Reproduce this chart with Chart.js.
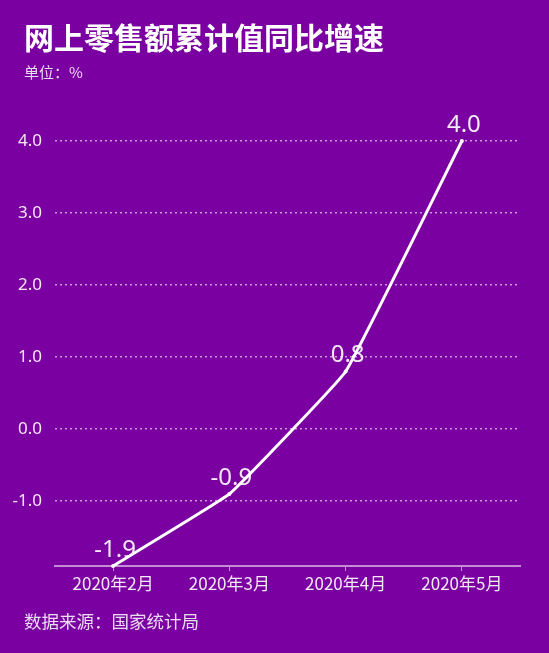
<!DOCTYPE html>
<html lang="zh">
<head>
  <meta charset="UTF-8">
  <title>网上零售额累计值同比增速</title>
  <script src="https://cdn.jsdelivr.net/npm/chart.js"></script>
  <style>
    body { margin: 0; background: #7a00a2; width: 549px; height: 653px; overflow: hidden; font-family: "Noto Sans CJK SC", "Noto Sans", sans-serif; }
    #wrap { position: absolute; left: 0; top: 0; width: 549px; height: 653px; }
    .txt { position: absolute; left: 24px; color: #fff; white-space: nowrap; }
    #title { top: 14px; font-size: 30px; font-weight: bold; }
    #unit { top: 61px; font-size: 15px; color: #ecdcf3; }
    #source { top: 608px; font-size: 17.5px; color: #ecdcf3; }
  </style>
</head>
<body>
  <div id="wrap"><canvas id="growthChart" width="549" height="653"></canvas></div>
  <div class="txt" id="title">网上零售额累计值同比增速</div>
  <div class="txt" id="unit">单位：%</div>
  <div class="txt" id="source">数据来源：国家统计局</div>

  <script>
    const months = ['2020年2月', '2020年3月', '2020年4月', '2020年5月'];
    const growth = [-1.9, -0.9, 0.8, 4.0];
    const yTicks = [-1, 0, 1, 2, 3, 4];

    // value labels above each point, drawn under the line
    const valueLabels = {
      id: 'valueLabels',
      beforeDatasetsDraw(chart) {
        const ctx = chart.ctx;
        const meta = chart.getDatasetMeta(0);
        ctx.save();
        ctx.font = '24px "Noto Sans", "Noto Sans CJK SC", sans-serif';
        ctx.fillStyle = '#f4e8f8';
        ctx.textAlign = 'center';
        ctx.textBaseline = 'bottom';
        meta.data.forEach((pt, i) => {
          ctx.fillText(growth[i].toFixed(1), pt.x + 2, pt.y - 4);
        });
        ctx.restore();
      }
    };

    const ctx = document.getElementById('growthChart').getContext('2d');
    const growthChart = new Chart(ctx, {
      type: 'line',
      data: {
        labels: months,
        datasets: [{
          data: growth,
          borderColor: '#ffffff',
          borderWidth: 3,
          pointRadius: 2,
          pointBackgroundColor: '#ffffff',
          pointBorderWidth: 0,
          tension: 0.08,
          clip: false
        }]
      },
      options: {
        responsive: false,
        animation: false,
        layout: { padding: { top: 141, right: 29, left: 0, bottom: 0 } },
        plugins: { legend: { display: false }, tooltip: { enabled: false } },
        scales: {
          x: {
            offset: true,
            afterFit: s => { s.height = 87; },
            border: { display: true, color: 'rgba(255,255,255,0.55)', width: 2 },
            grid: { offset: false, drawOnChartArea: false, drawTicks: true, tickLength: 5, color: 'rgba(255,255,255,0.55)' },
            ticks: { color: '#f4e8f8', padding: 2, font: { size: 17, family: '"Noto Sans CJK SC", sans-serif' } }
          },
          y: {
            min: -1.9,
            max: 4.0,
            afterFit: s => { s.width = 55; },
            afterBuildTicks: s => { s.ticks = yTicks.map(v => ({ value: v })); },
            border: { display: false, dash: [2, 3] },
            grid: { color: 'rgba(255,255,255,0.6)', lineWidth: 1.5, drawTicks: false },
            ticks: {
              color: '#f4e8f8',
              padding: 13,
              font: { size: 17, family: '"Noto Sans", sans-serif' },
              callback: v => v.toFixed(1)
            }
          }
        }
      },
      plugins: [valueLabels]
    });
  </script>
</body>
</html>
